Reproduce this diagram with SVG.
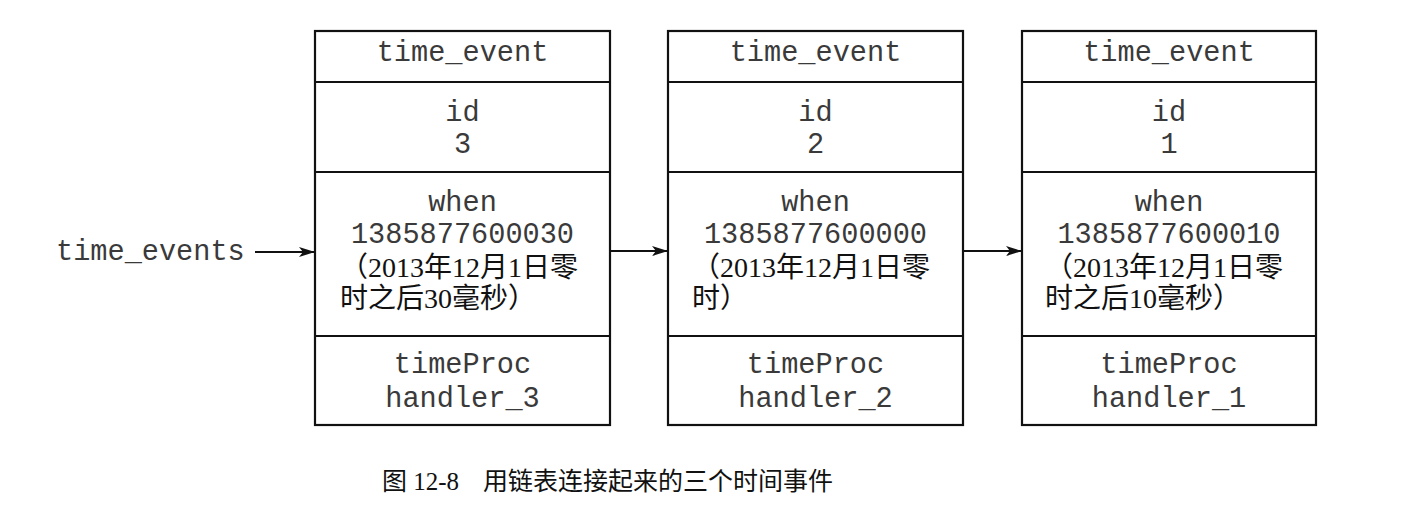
<svg xmlns="http://www.w3.org/2000/svg" width="1422" height="512" viewBox="0 0 1422 512">
<defs>
<style>
.box{fill:#fff;stroke:#111;stroke-width:2.2}
.div{stroke:#111;stroke-width:2.2}
.mono{font-family:"Liberation Mono","DejaVu Sans Mono",monospace;font-size:28.6px;fill:#3a3a3a;text-anchor:middle}
.cn{font-family:"Liberation Serif","Noto Sans CJK SC",serif;font-size:28px;fill:#111}
.lbl{font-family:"Liberation Mono","DejaVu Sans Mono",monospace;font-size:28.6px;fill:#3a3a3a}
.cap{font-family:"Liberation Serif","Noto Sans CJK SC",serif;font-size:25px;fill:#111}
.conn{stroke:#111;stroke-width:1.8;fill:none;marker-end:url(#ah)}
</style>
<marker id="ah" viewBox="0 0 16 10" refX="15" refY="5" markerWidth="16" markerHeight="10" markerUnits="userSpaceOnUse" orient="auto">
<path d="M0,0 L16,5 L0,10 L4,5 Z" fill="#111"/>
</marker>
</defs>
<rect width="1422" height="512" fill="#fff"/>

<g id="node3">
<rect class="box" x="315" y="31" width="295" height="394"/>
<line class="div" x1="315" y1="82" x2="610" y2="82"/>
<line class="div" x1="315" y1="172" x2="610" y2="172"/>
<line class="div" x1="315" y1="336" x2="610" y2="336"/>
<text class="mono" x="462.5" y="61">time_event</text>
<text class="mono" x="462.5" y="121">id</text>
<text class="mono" x="462.5" y="153">3</text>
<text class="mono" x="462.5" y="211">when</text>
<text class="mono" x="462.5" y="243">1385877600030</text>
<text class="cn" x="340" y="277">（2013年12月1日零</text>
<text class="cn" x="340" y="308">时之后30毫秒）</text>
<text class="mono" x="462.5" y="373">timeProc</text>
<text class="mono" x="462.5" y="407">handler_3</text>
</g>

<g id="node2">
<rect class="box" x="668" y="31" width="295" height="394"/>
<line class="div" x1="668" y1="82" x2="963" y2="82"/>
<line class="div" x1="668" y1="172" x2="963" y2="172"/>
<line class="div" x1="668" y1="336" x2="963" y2="336"/>
<text class="mono" x="815.5" y="61">time_event</text>
<text class="mono" x="815.5" y="121">id</text>
<text class="mono" x="815.5" y="153">2</text>
<text class="mono" x="815.5" y="211">when</text>
<text class="mono" x="815.5" y="243">1385877600000</text>
<text class="cn" x="692" y="277">（2013年12月1日零</text>
<text class="cn" x="692" y="308">时）</text>
<text class="mono" x="815.5" y="373">timeProc</text>
<text class="mono" x="815.5" y="407">handler_2</text>
</g>

<g id="node1">
<rect class="box" x="1022" y="31" width="294" height="394"/>
<line class="div" x1="1022" y1="82" x2="1316" y2="82"/>
<line class="div" x1="1022" y1="172" x2="1316" y2="172"/>
<line class="div" x1="1022" y1="336" x2="1316" y2="336"/>
<text class="mono" x="1169" y="61">time_event</text>
<text class="mono" x="1169" y="121">id</text>
<text class="mono" x="1169" y="153">1</text>
<text class="mono" x="1169" y="211">when</text>
<text class="mono" x="1169" y="243">1385877600010</text>
<text class="cn" x="1045" y="277">（2013年12月1日零</text>
<text class="cn" x="1045" y="308">时之后10毫秒）</text>
<text class="mono" x="1169" y="373">timeProc</text>
<text class="mono" x="1169" y="407">handler_1</text>
</g>

<g id="head">
<text class="lbl" x="56" y="260">time_events</text>
</g>

<g id="connectors">
<line class="conn" x1="255" y1="252" x2="314" y2="252"/>
<line class="conn" x1="610" y1="251" x2="667" y2="251"/>
<line class="conn" x1="963" y1="251" x2="1021" y2="251"/>
</g>

<g id="caption">
<text class="cap" y="490"><tspan x="382">图 12-8</tspan><tspan x="483">用链表连接起来的三个时间事件</tspan></text>
</g>
</svg>
